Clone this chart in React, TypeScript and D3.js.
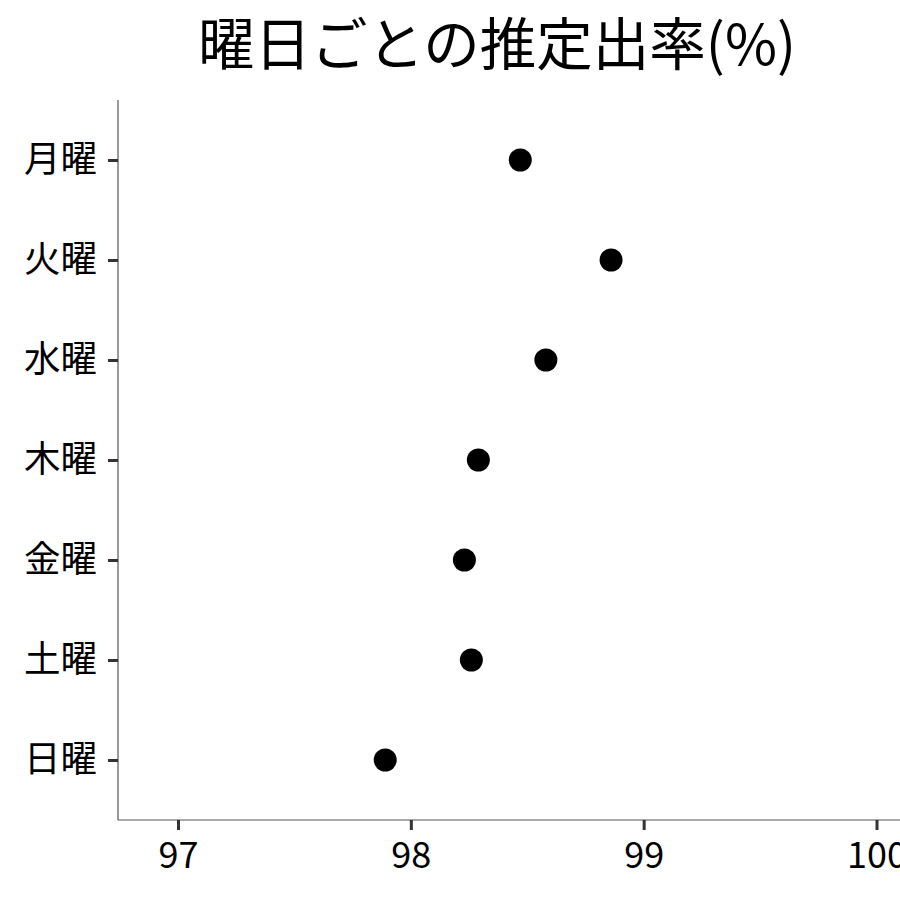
import React, { useEffect, useRef } from 'react';
import * as d3 from 'd3';

const days = ['月曜', '火曜', '水曜', '木曜', '金曜', '土曜', '日曜'];
const rates = [98.47, 98.86, 98.58, 98.29, 98.23, 98.26, 97.89];
const xTicks = [97, 98, 99, 100];
const title = '曜日ごとの推定出率(%)';

const W = 900;
const H = 900;
const FONT = '"Noto Sans CJK JP", "Noto Sans", sans-serif';

export default function App() {
  const svgRef = useRef<SVGSVGElement>(null);

  useEffect(() => {
    if (!svgRef.current) return;
    const svg = d3.select(svgRef.current);
    svg.selectAll('*').remove();

    const left = 118;
    const top = 100;
    const bottom = 820;

    const x = d3.scaleLinear().domain([97, 100]).range([178, 876.5]);
    const y = d3.scalePoint<string>().domain(days).range([top, bottom]).padding(0.6);

    // title
    svg.append('text')
      .attr('x', 497)
      .attr('y', 65)
      .attr('text-anchor', 'middle')
      .style('font-family', FONT)
      .style('font-size', '56.5px')
      .attr('fill', '#000')
      .text(title);

    // y axis
    const yAxis = svg.append('g')
      .attr('transform', `translate(${left},0)`)
      .call(d3.axisLeft(y).tickSize(10).tickPadding(11));
    yAxis.select('.domain').attr('stroke', '#555').attr('stroke-width', 1.2).attr('d', `M0,${top}V${bottom}`);
    yAxis.selectAll('.tick line').attr('stroke', '#333').attr('stroke-width', 3);
    yAxis.selectAll('.tick text')
      .style('font-family', FONT)
      .style('font-size', '36.5px')
      .attr('fill', '#000');

    // x axis
    const xAxis = svg.append('g')
      .attr('transform', `translate(0,${bottom})`)
      .call(d3.axisBottom(x).tickValues(xTicks).tickFormat(d3.format('d')).tickSize(10).tickPadding(12));
    xAxis.select('.domain').attr('stroke', '#555').attr('stroke-width', 1.2).attr('d', `M${left},0H${W}`);
    xAxis.selectAll('.tick line').attr('stroke', '#333').attr('stroke-width', 3);
    xAxis.selectAll('.tick text')
      .style('font-family', FONT)
      .style('font-size', '36px')
      .attr('fill', '#000');

    // points
    svg.append('g')
      .selectAll('circle')
      .data(days)
      .enter()
      .append('circle')
      .attr('cx', (d, i) => x(rates[i]))
      .attr('cy', d => y(d)!)
      .attr('r', 11.5)
      .attr('fill', '#000');
  }, []);

  return (
    <div style={{ position: 'absolute', left: 0, top: 0, width: W, height: H, overflow: 'hidden', background: '#fff' }}>
      <svg ref={svgRef} width={W} height={H} />
    </div>
  );
}
